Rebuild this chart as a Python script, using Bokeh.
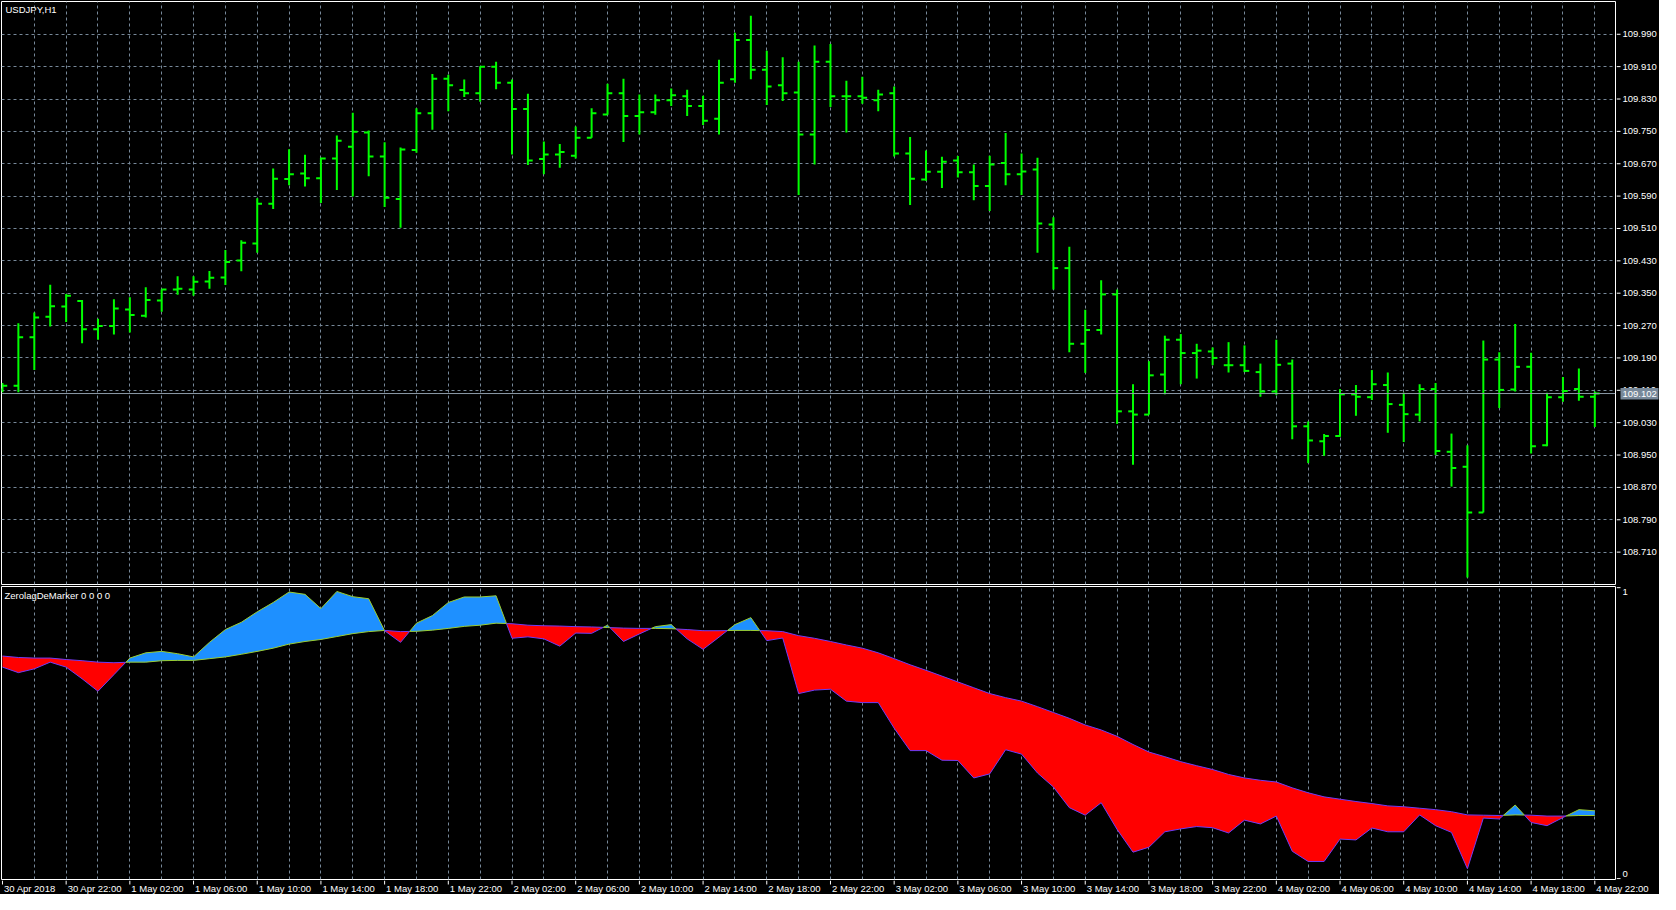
import numpy as np
from bokeh.plotting import figure
from bokeh.layouts import column, row
from bokeh.models import (Range1d, FixedTicker, Label, ColumnDataSource, Span)
from bokeh.core.properties import value
from bokeh.embed import file_html
from bokeh.resources import INLINE

# ---------------- data ----------------
symbol_title = "USDJPY,H1"
indicator_title = "ZerolagDeMarker 0 0 0 0"

time_labels = ["30 Apr 2018", "30 Apr 22:00", "1 May 02:00", "1 May 06:00", "1 May 10:00",
               "1 May 14:00", "1 May 18:00", "1 May 22:00", "2 May 02:00", "2 May 06:00",
               "2 May 10:00", "2 May 14:00", "2 May 18:00", "2 May 22:00", "3 May 02:00",
               "3 May 06:00", "3 May 10:00", "3 May 14:00", "3 May 18:00", "3 May 22:00",
               "4 May 02:00", "4 May 06:00", "4 May 10:00", "4 May 14:00", "4 May 18:00",
               "4 May 22:00"]
bars_per_label = 4

price_ticks = [109.990, 109.910, 109.830, 109.750, 109.670, 109.590, 109.510, 109.430,
               109.350, 109.270, 109.190, 109.110, 109.030, 108.950, 108.870, 108.790, 108.710]
indicator_ticks = [0, 1]
indicator_tick_labels = ["0", "1"]

opens = [109.112, 109.121, 109.241, 109.292, 109.317, 109.331, 109.261, 109.269, 109.310, 109.294,
         109.332, 109.359, 109.359, 109.379, 109.389, 109.431, 109.473, 109.571, 109.632, 109.646,
         109.634, 109.683, 109.712, 109.747, 109.688, 109.583, 109.704, 109.795, 109.880, 109.852,
         109.844, 109.910, 109.870, 109.805, 109.682, 109.693, 109.690, 109.734, 109.792, 109.844,
         109.788, 109.797, 109.827, 109.837, 109.813, 109.781, 109.879, 109.976, 109.902, 109.864,
         109.846, 109.742, 109.922, 109.837, 109.837, 109.827, 109.844, 109.695, 109.631, 109.650,
         109.678, 109.649, 109.615, 109.672, 109.644, 109.656, 109.520, 109.412, 109.225, 109.259,
         109.347, 109.058, 109.050, 109.149, 109.235, 109.202, 109.206, 109.172, 109.172, 109.155,
         109.107, 109.176, 109.021, 108.984, 108.997, 109.100, 109.093, 109.123, 109.074, 109.050,
         109.113, 108.958, 108.921, 108.808, 109.186, 109.112, 109.168, 108.974, 109.093, 109.113,
         109.094]
highs = [109.128, 109.276, 109.302, 109.371, 109.348, 109.333, 109.287, 109.335, 109.340, 109.365,
         109.359, 109.392, 109.392, 109.405, 109.457, 109.481, 109.585, 109.658, 109.706, 109.692,
         109.685, 109.740, 109.796, 109.752, 109.723, 109.710, 109.807, 109.892, 109.890, 109.878,
         109.911, 109.922, 109.878, 109.843, 109.725, 109.719, 109.762, 109.807, 109.868, 109.880,
         109.841, 109.841, 109.856, 109.853, 109.838, 109.927, 109.994, 110.036, 109.949, 109.933,
         109.922, 109.962, 109.966, 109.875, 109.885, 109.853, 109.861, 109.736, 109.703, 109.687,
         109.689, 109.668, 109.690, 109.746, 109.695, 109.685, 109.538, 109.465, 109.309, 109.382,
         109.359, 109.125, 109.182, 109.245, 109.249, 109.225, 109.216, 109.229, 109.221, 109.176,
         109.235, 109.186, 109.033, 109.002, 109.113, 109.123, 109.160, 109.154, 109.104, 109.125,
         109.128, 109.003, 108.974, 109.233, 109.204, 109.274, 109.203, 109.104, 109.143, 109.164,
         109.107]
lows = [109.105, 109.105, 109.160, 109.268, 109.279, 109.226, 109.235, 109.248, 109.253, 109.290,
        109.304, 109.346, 109.344, 109.361, 109.370, 109.404, 109.450, 109.558, 109.617, 109.614,
        109.573, 109.605, 109.589, 109.639, 109.563, 109.512, 109.697, 109.754, 109.800, 109.835,
        109.823, 109.854, 109.693, 109.667, 109.644, 109.660, 109.683, 109.734, 109.791, 109.724,
        109.742, 109.791, 109.813, 109.788, 109.766, 109.742, 109.870, 109.879, 109.815, 109.825,
        109.593, 109.668, 109.810, 109.747, 109.818, 109.800, 109.688, 109.568, 109.628, 109.610,
        109.636, 109.580, 109.553, 109.617, 109.593, 109.450, 109.359, 109.204, 109.153, 109.248,
        109.027, 108.926, 109.050, 109.100, 109.125, 109.139, 109.172, 109.154, 109.155, 109.094,
        109.098, 108.989, 108.930, 108.948, 108.995, 109.047, 109.086, 109.005, 108.982, 109.033,
        108.950, 108.872, 108.647, 108.808, 109.066, 109.107, 108.954, 108.972, 109.082, 109.084,
        109.019]
closes = [109.121, 109.241, 109.290, 109.318, 109.344, 109.261, 109.269, 109.312, 109.296, 109.333,
          109.359, 109.361, 109.378, 109.388, 109.427, 109.475, 109.571, 109.633, 109.644, 109.634,
          109.683, 109.727, 109.749, 109.688, 109.586, 109.705, 109.795, 109.880, 109.864, 109.844,
          109.910, 109.870, 109.805, 109.678, 109.693, 109.699, 109.734, 109.795, 109.844, 109.788,
          109.797, 109.827, 109.839, 109.813, 109.776, 109.870, 109.976, 109.902, 109.861, 109.844,
          109.742, 109.922, 109.837, 109.837, 109.833, 109.841, 109.695, 109.633, 109.650, 109.675,
          109.649, 109.615, 109.668, 109.644, 109.651, 109.522, 109.412, 109.225, 109.259, 109.347,
          109.058, 109.050, 109.147, 109.235, 109.202, 109.208, 109.190, 109.172, 109.158, 109.107,
          109.173, 109.021, 108.986, 108.997, 109.100, 109.094, 109.125, 109.076, 109.051, 109.113,
          108.960, 108.918, 108.808, 109.186, 109.111, 109.168, 108.972, 109.093, 109.108, 109.094,
          109.102]

zl_fast = [0.727, 0.708, 0.721, 0.744, 0.727, 0.687, 0.644, 0.701, 0.758, 0.776,
           0.781, 0.773, 0.762, 0.812, 0.856, 0.881, 0.917, 0.949, 0.985, 0.977,
           0.928, 0.987, 0.969, 0.962, 0.852, 0.812, 0.878, 0.904, 0.949, 0.968,
           0.968, 0.972, 0.826, 0.831, 0.824, 0.799, 0.844, 0.843, 0.871, 0.815,
           0.841, 0.866, 0.873, 0.824, 0.788, 0.830, 0.873, 0.897, 0.818, 0.827,
           0.636, 0.648, 0.651, 0.610, 0.605, 0.605, 0.517, 0.440, 0.440, 0.407,
           0.406, 0.346, 0.360, 0.443, 0.428, 0.363, 0.315, 0.244, 0.218, 0.261,
           0.169, 0.091, 0.108, 0.161, 0.171, 0.179, 0.175, 0.157, 0.201, 0.188,
           0.215, 0.094, 0.059, 0.059, 0.136, 0.133, 0.174, 0.161, 0.161, 0.219,
           0.182, 0.159, 0.034, 0.208, 0.205, 0.253, 0.193, 0.182, 0.210, 0.237,
           0.233]
zl_signal = [0.765, 0.760, 0.758, 0.758, 0.753, 0.749, 0.744, 0.742, 0.744, 0.744,
             0.749, 0.750, 0.750, 0.756, 0.762, 0.771, 0.781, 0.792, 0.806, 0.815,
             0.822, 0.832, 0.842, 0.849, 0.853, 0.849, 0.850, 0.854, 0.860, 0.867,
             0.871, 0.878, 0.876, 0.871, 0.869, 0.868, 0.866, 0.865, 0.863, 0.861,
             0.860, 0.860, 0.859, 0.856, 0.852, 0.852, 0.853, 0.853, 0.852, 0.849,
             0.835, 0.826, 0.815, 0.803, 0.792, 0.776, 0.756, 0.735, 0.716, 0.696,
             0.676, 0.656, 0.636, 0.622, 0.610, 0.591, 0.571, 0.551, 0.528, 0.511,
             0.489, 0.461, 0.435, 0.419, 0.402, 0.388, 0.375, 0.358, 0.346, 0.338,
             0.332, 0.312, 0.295, 0.281, 0.273, 0.265, 0.258, 0.250, 0.247, 0.242,
             0.237, 0.230, 0.219, 0.218, 0.217, 0.219, 0.218, 0.215, 0.215, 0.217,
             0.217]

# ---------------- layout / style ----------------
FW = 1614                 # chart frame width (px)
W1 = FW + 2               # chart figure width (1px border each side)
AW = 43                   # right price-scale column width (px)
H1 = 585                  # price panel height
H2 = 295                  # indicator panel height
HT = 14                   # time scale row height
FH1 = H1 - 2
FH2 = H2 - 2

X_START, X_END = -0.06, 101.3
P_START, P_END = 108.630, 110.071
I_START, I_END = -0.003, 1.004

FONT = value("Liberation Sans")
FS = value("9.5px")
BG = "black"
FG = "white"
GRID = "#778899"
BAR_COLOR = "#00FF00"
UP_FILL = "#1E90FF"
DN_FILL = "#FF0000"
UP_LINE = "#9ACD32"
DN_LINE = "#6F3CF5"
PRICE_LINE = "#8C9AA8"
PRICE_BOX = "#778899"

ppb = FW / (X_END - X_START)          # px per bar
ppu1 = FH1 / (P_END - P_START)        # px per price unit
ppu2 = FH2 / (I_END - I_START)        # px per indicator unit

n = len(closes)
xs = np.arange(n)
even_bars = list(range(2, n + 1, 2))
label_bars = list(range(0, n, bars_per_label))

x_range = Range1d(X_START, X_END)
y_price = Range1d(P_START, P_END)
y_ind = Range1d(I_START, I_END)


def base_fig(width, height, xr, yr, outline=True):
    p = figure(width=width, height=height, x_range=xr, y_range=yr,
               output_backend="svg", toolbar_location=None,
               x_axis_location=None, y_axis_location=None,
               min_border_left=1 if outline else 0, min_border_right=1 if outline else 0,
               min_border_top=1, min_border_bottom=1)
    p.background_fill_color = BG
    p.border_fill_color = BG
    p.outline_line_color = FG if outline else None
    p.xgrid.visible = False
    p.ygrid.visible = False
    return p


# ---------------- price panel ----------------
p1 = base_fig(W1, H1, x_range, y_price)
p1.xgrid.visible = True
p1.ygrid.visible = True
p1.xgrid.ticker = FixedTicker(ticks=even_bars, minor_ticks=[])
p1.ygrid.ticker = FixedTicker(ticks=price_ticks, minor_ticks=[])
for g in (p1.xgrid, p1.ygrid):
    g.grid_line_color = GRID
    g.grid_line_dash = "3 3"
    g.grid_line_width = 1

src = ColumnDataSource(dict(x=xs, o=opens, h=highs, l=lows, c=closes,
                            xl=xs - 0.3, xr=xs + 0.3))
p1.segment(x0="x", y0="l", x1="x", y1="h", source=src, line_color=BAR_COLOR, line_width=2)
p1.segment(x0="xl", y0="o", x1="x", y1="o", source=src, line_color=BAR_COLOR, line_width=2)
p1.segment(x0="x", y0="c", x1="xr", y1="c", source=src, line_color=BAR_COLOR, line_width=2)

last_price = closes[-1]
p1.add_layout(Span(location=last_price, dimension="width", line_color=PRICE_LINE, line_width=1))
p1.add_layout(Label(x=X_START + 4 / ppb, y=P_END - 8 / ppu1, text=symbol_title,
                    text_align="left", text_baseline="middle", text_color=FG,
                    text_font="Liberation Sans", text_font_size="9.5px"))

# price scale column (x measured in px)
a1 = base_fig(AW, H1, Range1d(0, AW), y_price, outline=False)
a1.segment(x0=0, y0=price_ticks, x1=4, y1=price_ticks, line_color=FG, line_width=1)
a1.text(x=6, y=price_ticks, text=[f"{t:.3f}" for t in price_ticks], text_color=FG,
        text_font=FONT, text_font_size=FS, text_align="left", text_baseline="middle")
a1.quad(left=[4], right=[42], bottom=[last_price - 6 / ppu1], top=[last_price + 5.5 / ppu1],
        fill_color=PRICE_BOX, line_color=None)
a1.text(x=[6], y=[last_price], text=[f"{last_price:.3f}"], text_color=FG,
        text_font=FONT, text_font_size=FS, text_align="left", text_baseline="middle")

# ---------------- indicator panel ----------------
p2 = base_fig(W1, H2, x_range, y_ind)
p2.xgrid.visible = True
p2.xgrid.ticker = FixedTicker(ticks=even_bars, minor_ticks=[])
p2.xgrid.grid_line_color = GRID
p2.xgrid.grid_line_dash = "3 3"

# refine series with crossing points so the two-colour fill is exact
rx, rf, rs = [], [], []
for i in range(n):
    rx.append(float(i)); rf.append(zl_fast[i]); rs.append(zl_signal[i])
    if i < n - 1:
        d0 = zl_fast[i] - zl_signal[i]
        d1 = zl_fast[i + 1] - zl_signal[i + 1]
        if d0 * d1 < 0:
            t = d0 / (d0 - d1)
            yc = zl_signal[i] + t * (zl_signal[i + 1] - zl_signal[i])
            rx.append(i + t); rf.append(yc); rs.append(yc)
rx = np.array(rx); rf = np.array(rf); rs = np.array(rs)

p2.varea(x=rx, y1=rs, y2=np.maximum(rf, rs), fill_color=UP_FILL)
p2.varea(x=rx, y1=np.minimum(rf, rs), y2=rs, fill_color=DN_FILL)

mid_up = (rf[:-1] + rf[1:]) > (rs[:-1] + rs[1:])
seg_colors = [UP_LINE if u else DN_LINE for u in mid_up]
p2.segment(x0=rx[:-1], y0=rs[:-1], x1=rx[1:], y1=rs[1:], line_color=seg_colors, line_width=1)
p2.segment(x0=rx[:-1], y0=rf[:-1], x1=rx[1:], y1=rf[1:], line_color=seg_colors, line_width=1)

p2.add_layout(Label(x=X_START + 3 / ppb, y=I_END - 9 / ppu2, text=indicator_title,
                    text_align="left", text_baseline="middle", text_color=FG,
                    text_font="Liberation Sans", text_font_size="9.5px"))

# indicator scale column
a2 = base_fig(AW, H2, Range1d(0, AW), y_ind, outline=False)
a2.segment(x0=0, y0=indicator_ticks, x1=4, y1=indicator_ticks, line_color=FG, line_width=1)
a2.text(x=6, y=[indicator_ticks[0] + 5 / ppu2, indicator_ticks[1] - 4.5 / ppu2],
        text=indicator_tick_labels, text_color=FG, text_font=FONT, text_font_size=FS,
        text_align="left", text_baseline="middle")

# ---------------- time scale row ----------------
TW = W1 + AW
t_fig = figure(width=TW, height=HT,
               x_range=Range1d(X_START, X_START + (TW - 2) / ppb), y_range=Range1d(0, HT),
               output_backend="svg", toolbar_location=None,
               x_axis_location=None, y_axis_location=None,
               min_border_left=1, min_border_right=1, min_border_top=0, min_border_bottom=0)
t_fig.background_fill_color = BG
t_fig.border_fill_color = BG
t_fig.outline_line_color = None
t_fig.xgrid.visible = False
t_fig.ygrid.visible = False
t_fig.segment(x0=label_bars, y0=HT, x1=label_bars, y1=HT - 4, line_color=FG, line_width=1)
t_fig.text(x=[b + 1.5 / ppb for b in label_bars], y=HT - 8, text=time_labels,
           text_color=FG, text_font=FONT, text_font_size=FS,
           text_align="left", text_baseline="middle")

layout = column(row(p1, a1, spacing=0), row(p2, a2, spacing=0), t_fig, spacing=0)
layout.styles = {"background-color": "black"}

open("out.html", "w").write(file_html(layout, INLINE))
